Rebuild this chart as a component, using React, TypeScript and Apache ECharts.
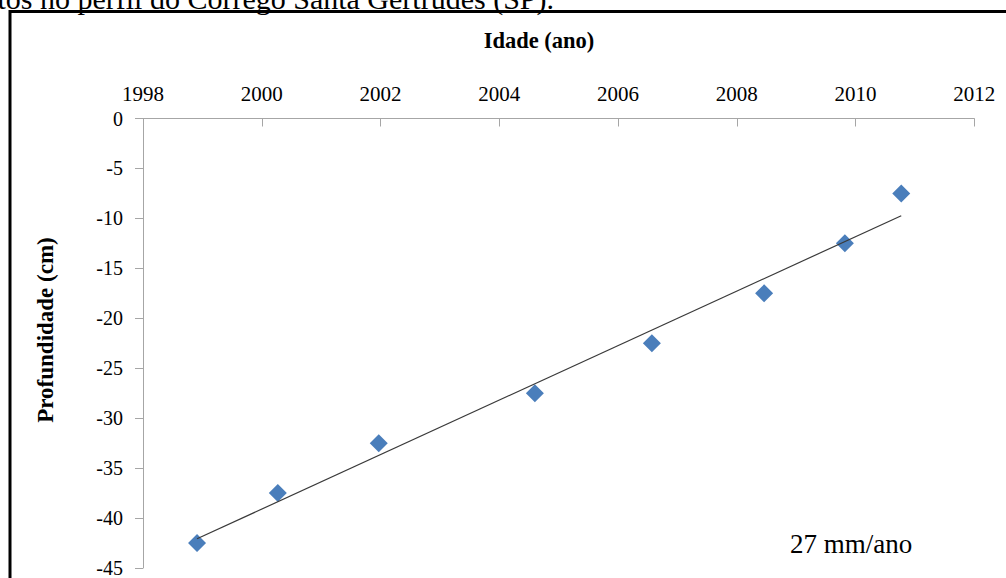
import { useEffect, useRef } from "react";
import * as echarts from "echarts";

// Dated sediment layers: year of deposition vs. depth below surface
const years = [1998.91, 2000.27, 2001.97, 2004.6, 2006.57, 2008.46, 2009.82, 2010.77];
const depthsCm = [-42.5, -37.5, -32.5, -27.5, -22.5, -17.5, -12.5, -7.5];

// Axis ticks
const yearTicks = [1998, 2000, 2002, 2004, 2006, 2008, 2010, 2012];
const depthTicks = [0, -5, -10, -15, -20, -25, -30, -35, -40, -45];

const caption = "ntos no perfil do Córrego Santa Gertrudes (SP).";
const xTitle = "Idade (ano)";
const yTitle = "Profundidade (cm)";

const SERIF = "Liberation Serif, Times New Roman, serif";

// Ordinary least-squares line through the points
function linearFit(xs: number[], ys: number[]) {
  const n = xs.length;
  const mx = xs.reduce((a, b) => a + b, 0) / n;
  const my = ys.reduce((a, b) => a + b, 0) / n;
  let sxy = 0;
  let sxx = 0;
  for (let i = 0; i < n; i++) {
    sxy += (xs[i] - mx) * (ys[i] - my);
    sxx += (xs[i] - mx) * (xs[i] - mx);
  }
  const slope = sxy / sxx;
  return { slope, at: (x: number) => my + slope * (x - mx) };
}

export default function App() {
  const ref = useRef<HTMLDivElement>(null);

  useEffect(() => {
    if (!ref.current) return;
    const chart = echarts.init(ref.current, null, { renderer: "svg" });

    const fit = linearFit(years, depthsCm);
    const xFirst = years[0];
    const xLast = years[years.length - 1];
    const trend = [
      [xFirst, fit.at(xFirst)],
      [xLast, fit.at(xLast)],
    ];
    // cm per year -> mm per year
    const rateMm = Math.round(fit.slope * 10);

    const axisGray = "#a6a6a6";

    chart.setOption({
      animation: false,
      backgroundColor: "#ffffff",
      grid: { left: 143, top: 118.5, right: 31.7, bottom: 8, containLabel: false },
      xAxis: {
        type: "value",
        position: "top",
        min: yearTicks[0],
        max: yearTicks[yearTicks.length - 1],
        interval: yearTicks[1] - yearTicks[0],
        axisLine: { show: true, onZero: false, lineStyle: { color: axisGray, width: 1 } },
        axisTick: { show: true, inside: true, length: 8, lineStyle: { color: axisGray, width: 1 } },
        axisLabel: {
          margin: 14,
          color: "#000",
          fontSize: 21,
          fontFamily: SERIF,
          formatter: (v: number) => String(v),
        },
        splitLine: { show: false },
      },
      yAxis: {
        type: "value",
        min: depthTicks[depthTicks.length - 1],
        max: depthTicks[0],
        interval: depthTicks[0] - depthTicks[1],
        axisLine: { show: true, onZero: false, lineStyle: { color: axisGray, width: 1 } },
        axisTick: { show: true, inside: false, length: 8, lineStyle: { color: axisGray, width: 1 } },
        axisLabel: {
          margin: 20,
          color: "#000",
          fontSize: 20,
          fontFamily: SERIF,
          formatter: (v: number) => String(v),
        },
        splitLine: { show: false },
      },
      series: [
        {
          type: "scatter",
          data: years.map((y, i) => [y, depthsCm[i]]),
          symbol: "diamond",
          symbolSize: 18,
          itemStyle: { color: "#4a7ebb", opacity: 1 },
          z: 2,
        },
        {
          type: "line",
          data: trend,
          showSymbol: false,
          symbol: "none",
          lineStyle: { color: "#3a3a3a", width: 1.2 },
          z: 3,
        },
      ],
      graphic: [
        {
          type: "rect",
          shape: { x: 10, y: 11.5, width: 1200, height: 800 },
          style: { fill: "none", stroke: "#000", lineWidth: 3 },
          silent: true,
        },
        {
          type: "text",
          x: 554,
          y: -1.7,
          style: {
            text: caption,
            font: `30px ${SERIF}`,
            fill: "#000",
            align: "right",
            verticalAlign: "middle",
            textAlign: "right",
            textVerticalAlign: "middle",
          },
        },
        {
          type: "text",
          x: 539,
          y: 40.8,
          style: {
            text: xTitle,
            font: `bold 22.5px ${SERIF}`,
            fill: "#000",
            align: "center",
            verticalAlign: "middle",
            textAlign: "center",
            textVerticalAlign: "middle",
          },
        },
        {
          type: "text",
          x: 45.5,
          y: 330,
          rotation: Math.PI / 2,
          style: {
            text: yTitle,
            font: `bold 23px ${SERIF}`,
            fill: "#000",
            align: "center",
            verticalAlign: "middle",
            textAlign: "center",
            textVerticalAlign: "middle",
          },
        },
        {
          type: "text",
          x: 790,
          y: 544.3,
          style: {
            text: `${rateMm} mm/ano`,
            font: `27px ${SERIF}`,
            fill: "#000",
            align: "left",
            verticalAlign: "middle",
            textAlign: "left",
            textVerticalAlign: "middle",
          },
        },
      ],
    });

    return () => chart.dispose();
  }, []);

  return (
    <div
      ref={ref}
      style={{ position: "fixed", left: 0, top: 0, width: 1006, height: 578, background: "#fff" }}
    />
  );
}
